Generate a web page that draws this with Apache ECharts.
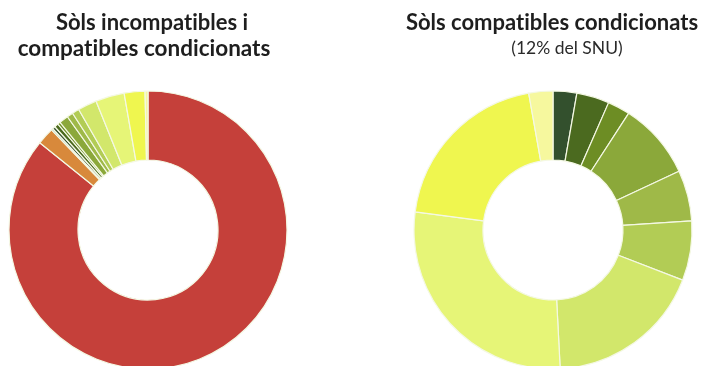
<!DOCTYPE html>
<html>
<head>
<meta charset="utf-8">
<script src="https://cdn.jsdelivr.net/npm/echarts@6/dist/echarts.min.js"></script>
<style>
  html, body { margin: 0; padding: 0; background: #ffffff; }
  #chart { width: 705px; height: 366px; }
</style>
</head>
<body>
<div id="chart"></div>
<script>
// Land classes, shared order for both rings
const leftCategories = [
  'Incompatible', 'Compatible amb condicions fortes', 'Altres',
  'Classe 1', 'Classe 2', 'Classe 3', 'Classe 4', 'Classe 5',
  'Classe 6', 'Classe 7', 'Classe 8', 'Classe 9', 'Classe 10'
];
// Share of SNU (%)
const leftValues = [85.8, 2.0, 0.2, 0.33, 0.46, 0.31, 1.07, 0.71, 0.83, 2.2, 3.35, 2.41, 0.34];

const rightCategories = [
  'Classe 1', 'Classe 2', 'Classe 3', 'Classe 4', 'Classe 5',
  'Classe 6', 'Classe 7', 'Classe 8', 'Classe 9', 'Classe 10'
];
// Share of the compatible-with-conditions soils (%)
const rightValues = [2.75, 3.8, 2.6, 8.9, 5.9, 6.9, 18.3, 27.9, 20.1, 2.8];

const classColors = [
  '#33502d', '#4b6a1f', '#6d8d24', '#8ba83a', '#9fb948',
  '#b2cc55', '#d2e76b', '#e6f577', '#eff64f', '#f6f89e'
];
const leftColors = ['#c5403a', '#d8893b', '#86a9a2'].concat(classColors);

const leftTitleLines = ['Sòls incompatibles i', 'compatibles condicionats'];
const rightTitle = 'Sòls compatibles condicionats';
const rightSubtitle = '(12% del SNU)';

// Lato joins "ti" into a ligature; a zero-width non-joiner keeps the letters apart
function noLigature(s) {
  return s.replace(/ti/g, 't\u200Ci');
}

function ring(names, values, colors, cx) {
  return {
    type: 'pie',
    center: [cx, 230],
    radius: [70, 139],
    startAngle: 90,
    clockwise: true,
    avoidLabelOverlap: false,
    label: { show: false },
    labelLine: { show: false },
    emphasis: { disabled: true },
    silent: true,
    itemStyle: { borderColor: '#f4f8e4', borderWidth: 1.2 },
    data: names.map((n, i) => ({ name: n, value: values[i], itemStyle: { color: colors[i] } }))
  };
}

function heading(text, cx, top, bold, size) {
  return {
    text: noLigature(text),
    left: cx, top: top, textAlign: 'center', padding: 0,
    textStyle: {
      fontFamily: 'Lato', fontWeight: bold ? 'bold' : 'normal',
      fontSize: size, color: bold ? '#1e1e1e' : '#2a2a2a', lineHeight: 27
    }
  };
}

const chart = echarts.init(document.getElementById('chart'), null, { renderer: 'canvas' });
chart.setOption({
  animation: false,
  backgroundColor: '#ffffff',
  title: [
    heading(leftTitleLines[0], 152, 9, true, 22),
    heading(leftTitleLines[1], 144, 35, true, 22.5),
    heading(rightTitle, 552, 9, true, 22),
    heading(rightSubtitle, 567, 35, false, 17.5)
  ],
  series: [
    ring(leftCategories, leftValues, leftColors, 148),
    ring(rightCategories, rightValues, classColors, 553)
  ]
});
</script>
</body>
</html>
